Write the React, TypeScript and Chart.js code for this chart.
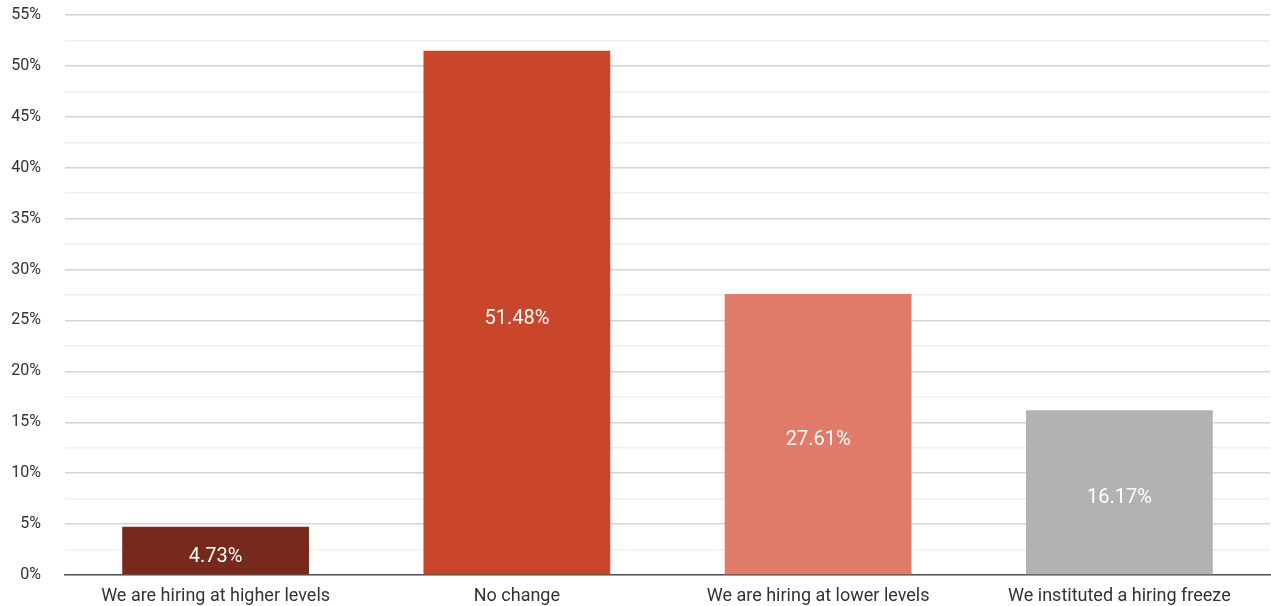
import React, { useEffect, useRef } from "react";
import { Chart, registerables } from "chart.js";

Chart.register(...registerables);

const categories = [
  "We are hiring at higher levels",
  "No change",
  "We are hiring at lower levels",
  "We instituted a hiring freeze",
];
const values = [4.73, 51.48, 27.61, 16.17];
const barColors = ["#77291c", "#c9452b", "#e07b69", "#b2b2b2"];
const yMax = 55;
const yStep = 2.5;

const FONT = "Roboto, 'Noto Sans', sans-serif";

const valueLabelPlugin = {
  id: "valueLabels",
  afterDatasetsDraw(chart: any) {
    const ctx = chart.ctx;
    const meta = chart.getDatasetMeta(0);
    ctx.save();
    ctx.fillStyle = "#ffffff";
    ctx.font = `20px ${FONT}`;
    ctx.textAlign = "center";
    ctx.textBaseline = "middle";
    meta.data.forEach((bar: any, i: number) => {
      const v = chart.data.datasets[0].data[i];
      const y = (bar.y + bar.base) / 2 + 6;
      ctx.fillText(v.toFixed(2) + "%", bar.x, y);
    });
    ctx.restore();
  },
};

export default function App() {
  const ref = useRef<HTMLCanvasElement>(null);
  useEffect(() => {
    if (!ref.current) return;
    const chart = new Chart(ref.current, {
      type: "bar",
      data: {
        labels: categories,
        datasets: [
          {
            data: values,
            backgroundColor: barColors,
            barPercentage: 0.62,
            categoryPercentage: 1,
          },
        ],
      },
      plugins: [valueLabelPlugin],
      options: {
        animation: false,
        responsive: true,
        maintainAspectRatio: false,
        layout: { padding: { top: 15, right: 1, left: 0, bottom: 0 } },
        plugins: { legend: { display: false }, tooltip: { enabled: false } },
        scales: {
          x: {
            afterFit: (s: any) => {
              s.height = 31;
              s.paddingLeft = 0;
              s.paddingRight = 0;
            },
            grid: { display: false, drawTicks: false },
            border: { color: "#555555", width: 1.5 },
            ticks: {
              color: "#333333",
              font: { family: FONT, size: 18 },
              padding: 11,
            },
          },
          y: {
            min: 0,
            max: yMax,
            afterFit: (s: any) => {
              s.width = 65;
              s.paddingTop = 0;
              s.paddingBottom = 0;
            },
            border: { display: false },
            grid: {
              drawTicks: false,
              color: (c: any) => {
                const v = c.tick ? c.tick.value : 0;
                return Math.abs(v % 5) < 0.01 ? "#d4d4d4" : "#eeeeee";
              },
              lineWidth: 1.5,
            },
            ticks: {
              stepSize: yStep,
              color: "#333333",
              font: { family: FONT, size: 16 },
              padding: 24,
              autoSkip: false,
              callback: (v: any) => (Math.abs(Number(v) % 5) < 0.01 ? `${v}%` : ""),
            },
          },
        },
      },
    });
    return () => chart.destroy();
  }, []);
  return (
    <div style={{ position: "absolute", left: 0, top: 0, width: 1271, height: 606, background: "#fff" }}>
      <canvas ref={ref} />
    </div>
  );
}
